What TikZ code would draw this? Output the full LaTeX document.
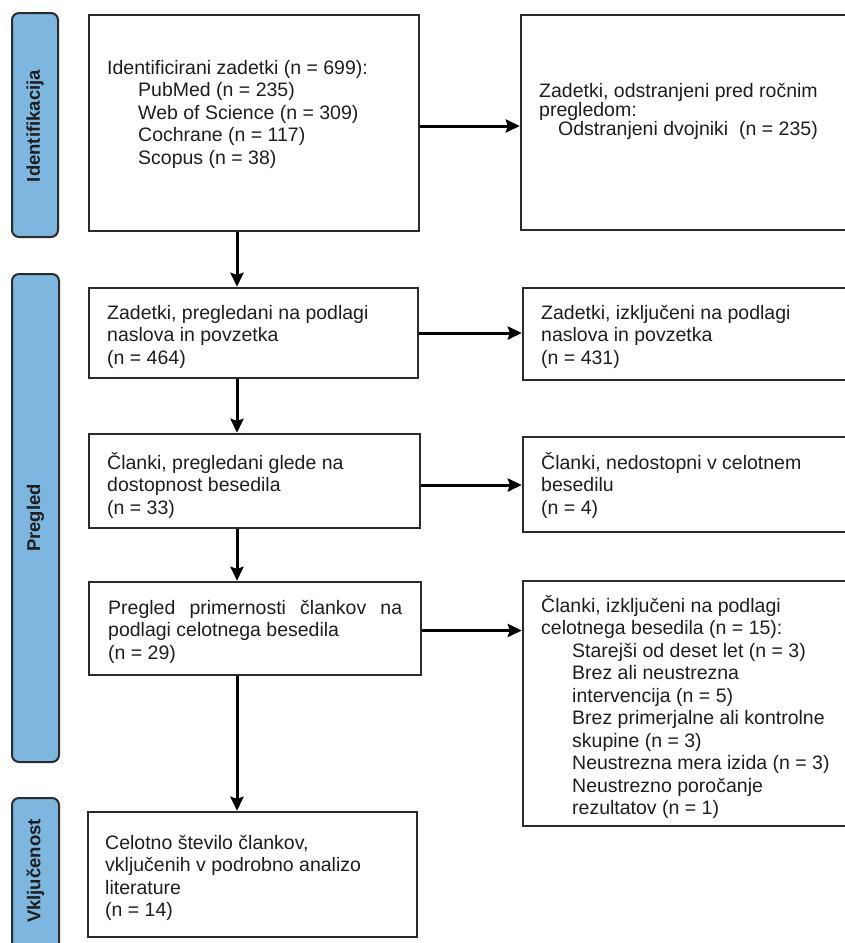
\documentclass[tikz,border=0pt]{standalone}
\usepackage{fontspec}
\setmainfont{Liberation Sans}
\usetikzlibrary{arrows.meta}
\definecolor{barblue}{HTML}{7DB6DF}
\definecolor{edgegray}{HTML}{2B2B2B}
\definecolor{ink}{HTML}{1E1E1E}
\newcommand{\fl}{\rule{0pt}{19pt}}
\newcommand{\ind}{\hspace*{31pt}}
\begin{document}
\begin{tikzpicture}[x=1pt,y=-1pt,
  box/.style={draw=edgegray, line width=2.4pt, fill=white, inner sep=0pt},
  sidebar/.style={draw=edgegray, line width=2pt, fill=barblue, rounded corners=7pt, inner sep=0pt},
  txt/.style={anchor=north west, inner sep=0pt, align=left, text=ink, font=\fontsize{19.5}{22.5}\selectfont},
  barlbl/.style={rotate=90, inner sep=0pt, text=ink, font=\fontsize{18.5}{22}\selectfont\bfseries},
  arr/.style={draw=black, line width=3pt, -{Stealth[length=14pt,width=13pt,inset=2pt]}}]
\useasboundingbox[fill=white] (0,0) rectangle (844,943);

% side bars
\node[sidebar, minimum width=46pt, minimum height=224pt] (s1) at (35,125) {};
\node[sidebar, minimum width=47pt, minimum height=488pt] (s2) at (35.5,518) {};
\node[sidebar, minimum width=47pt, minimum height=160pt] (s3) at (35.5,878) {};
\node[barlbl] (l1) at (35,126) {Identifikacija};
\node[barlbl] (l2) at (35.5,518) {Pregled};
\node[barlbl] (l3) at (35.5,871) {Vključenost};

% boxes
\node[box, minimum width=330pt, minimum height=216pt] (b1) at (254,123) {};
\node[box, minimum width=329pt, minimum height=215pt] (b2) at (685.5,122.5) {};
\node[box, minimum width=329pt, minimum height=90pt] (b3) at (253.5,333) {};
\node[box, minimum width=327pt, minimum height=92pt] (b4) at (686.5,334) {};
\node[box, minimum width=331pt, minimum height=94pt] (b5) at (254.5,481) {};
\node[box, minimum width=327pt, minimum height=95pt] (b6) at (686.5,484.5) {};
\node[box, minimum width=332pt, minimum height=93pt] (b7) at (255,628.5) {};
\node[box, minimum width=327pt, minimum height=245pt] (b8) at (686.5,703.5) {};
\node[box, minimum width=329pt, minimum height=125pt] (b9) at (252.5,874.5) {};

% texts
\node[txt] (t1) at (107,55) {\fl Identificirani zadetki (n = 699):\\
\ind PubMed (n = 235)\\
\ind Web of Science (n = 309)\\
\ind Cochrane (n = 117)\\
\ind Scopus (n = 38)};
\node[txt, font=\fontsize{19.5}{19}\selectfont] (t2) at (539,78) {\fl Zadetki, odstranjeni pred ročnim\\
pregledom:\\
\hspace*{19pt}Odstranjeni dvojniki\ \ (n = 235)};
\node[txt] (t3) at (107,300) {\fl Zadetki, pregledani na podlagi\\naslova in povzetka\\(n = 464)};
\node[txt] (t4) at (541,300) {\fl Zadetki, izključeni na podlagi\\naslova in povzetka\\(n = 431)};
\node[txt] (t5) at (107,450) {\fl Članki, pregledani glede na\\dostopnost besedila\\(n = 33)};
\node[txt] (t6) at (541,450) {\fl Članki, nedostopni v celotnem\\besedilu\\(n = 4)};
\node[txt] (t7) at (108,595) {\fl\hbox to 294pt{Pregled\hfill primernosti\hfill člankov\hfill na}\\podlagi celotnega besedila\\(n = 29)};
\node[txt] (t8) at (541,593) {\fl Članki, izključeni na podlagi\\
celotnega besedila (n = 15):\\
\ind Starejši od deset let (n = 3)\\
\ind Brez ali neustrezna\\
\ind intervencija (n = 5)\\
\ind Brez primerjalne ali kontrolne\\
\ind skupine (n = 3)\\
\ind Neustrezna mera izida (n = 3)\\
\ind Neustrezno poročanje\\
\ind rezultatov (n = 1)};
\node[txt] (t9) at (105,830) {\fl Celotno število člankov,\\vključenih v podrobno analizo\\literature\\(n = 14)};

% connectors
\coordinate (col) at (237,0);
\draw[arr] (b1.south -| col) -- (b3.north -| col);
\draw[arr] (b3.south -| col) -- (b5.north -| col);
\draw[arr] (b5.south -| col) -- (b7.north -| col);
\draw[arr] (b7.south -| col) -- (b9.north -| col);
\draw[arr] ([yshift=-3pt]b1.east) -- ([yshift=-3pt]b1.east -| b2.west);
\draw[arr] (b3.east) -- (b3.east -| b4.west);
\draw[arr] ([yshift=-4pt]b5.east) -- ([yshift=-4pt]b5.east -| b6.west);
\draw[arr] ([yshift=-2pt]b7.east) -- ([yshift=-2pt]b7.east -| b8.west);
\end{tikzpicture}
\end{document}
